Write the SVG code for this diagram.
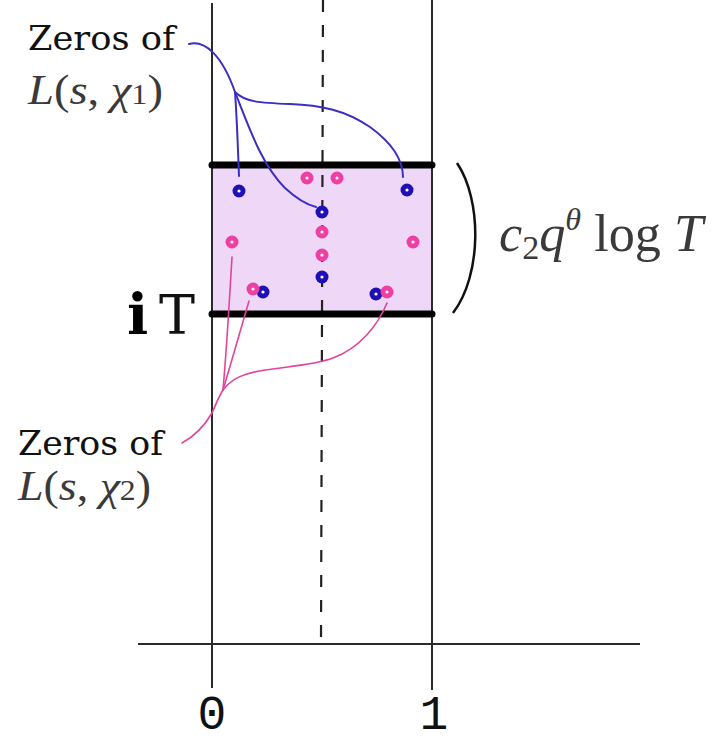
<svg xmlns="http://www.w3.org/2000/svg" width="715" height="744" viewBox="0 0 715 744">
<style>
.ax{stroke:#2a2a2a;stroke-width:2;fill:none}
.bar{stroke:#000;stroke-width:7;stroke-linecap:round}
.blue{stroke:#3b2ec4;stroke-width:2;fill:none;stroke-linecap:round}
.pink{stroke:#e2449a;stroke-width:1.6;fill:none;stroke-linecap:round}
.lab{font-family:"DejaVu Serif",serif;font-size:34px;fill:#111}
.math{font-family:"Liberation Serif",serif;font-style:italic;fill:#3a3a3a}
.num{font-family:"Liberation Mono",monospace;font-size:48px;fill:#111}
</style>
<defs>
<g id="bz"><circle r="6.5" fill="#1f10b5"/><circle r="1.6" fill="#fff"/></g>
<g id="pz"><circle r="6.5" fill="#ee3fa2"/><circle r="1.6" fill="#fff"/></g>
</defs>
<rect width="715" height="744" fill="#fff"/>
<g id="strip">
<rect x="212" y="165" width="220" height="149" fill="#efd8f7"/>
<line class="ax" x1="212" y1="3" x2="212" y2="688"/>
<line class="ax" x1="432" y1="0" x2="432" y2="690"/>
<line class="ax" x1="138" y1="644" x2="640" y2="644"/>
<path d="M323 0 L322 320 L321 644" stroke="#222" stroke-width="2.2" fill="none" stroke-dasharray="12,13"/>
<line class="bar" x1="212" y1="165" x2="432" y2="165"/>
<line class="bar" x1="212" y1="314" x2="432" y2="314"/>
</g>
<g id="connectors">
<path class="blue" d="M189 44 C205 40 222 55 235 92"/>
<path class="blue" d="M235 92 C237 120 238 150 239 176"/>
<path class="blue" d="M235 92 C250 130 262 165 285 188 C298 200 308 205 316 207"/>
<path class="blue" d="M235 92 C245 102 260 103 290 104 C320 105 345 110 370 127 C392 143 403 160 403 177"/>
<path class="pink" d="M182 443 C195 436 205 425 212 413 C216 404 219 396 223 390"/>
<path class="pink" d="M223 390 C227 345 230 290 232 257"/>
<path class="pink" d="M223 390 C232 360 242 325 249 301"/>
<path class="pink" d="M223 390 C232 378 245 373 265 370 C290 366 315 365 333 358 C360 348 378 325 387 303"/>
</g>
<g id="zeros-chi1">
<use href="#bz" x="239" y="191"/>
<use href="#bz" x="322" y="212"/>
<use href="#bz" x="407" y="190"/>
<use href="#bz" x="322" y="277"/>
<use href="#bz" x="263" y="292"/>
<use href="#bz" x="376" y="294"/>
</g>
<g id="zeros-chi2">
<use href="#pz" x="307" y="178"/>
<use href="#pz" x="337" y="178"/>
<use href="#pz" x="232" y="242"/>
<use href="#pz" x="322" y="232"/>
<use href="#pz" x="322" y="255"/>
<use href="#pz" x="413" y="242"/>
<use href="#pz" x="253" y="289"/>
<use href="#pz" x="387" y="292"/>
</g>
<g id="label-chi1">
<text class="lab" x="28" y="50" textLength="147" lengthAdjust="spacingAndGlyphs">Zeros of</text>
<text class="math" x="28" y="104" font-size="42" textLength="135" lengthAdjust="spacingAndGlyphs">L<tspan font-style="normal">(</tspan>s<tspan font-style="normal">, </tspan>χ<tspan font-style="normal" font-size="29">1</tspan><tspan font-style="normal">)</tspan></text>
</g>
<g id="label-chi2">
<text class="lab" x="18" y="455" textLength="145" lengthAdjust="spacingAndGlyphs">Zeros of</text>
<text class="math" x="18" y="500" font-size="42" textLength="133" lengthAdjust="spacingAndGlyphs">L<tspan font-style="normal">(</tspan>s<tspan font-style="normal">, </tspan>χ<tspan font-style="normal" font-size="29">2</tspan><tspan font-style="normal">)</tspan></text>
</g>
<g id="height">
<path d="M457 163 C482 200 482 275 453 313" stroke="#111" stroke-width="2.5" fill="none"/>
<text class="math" x="499" y="251" font-size="52" textLength="204" lengthAdjust="spacingAndGlyphs">c<tspan font-style="normal" font-size="34" dy="8">2</tspan><tspan dy="-8">q</tspan><tspan font-size="32" dy="-21">θ</tspan><tspan font-style="normal" dy="21"> log </tspan>T</text>
</g>
<g id="label-iT">
<text x="127" y="334" font-family="DejaVu Serif,serif" font-weight="bold" font-size="56" fill="#000">i</text>
<text x="159" y="334" font-family="DejaVu Serif,serif" font-size="54" fill="#111">T</text>
</g>
<g id="ticks">
<text class="num" x="212" y="729" text-anchor="middle">0</text>
<text class="num" x="434" y="729" text-anchor="middle">1</text>
</g>
</svg>
